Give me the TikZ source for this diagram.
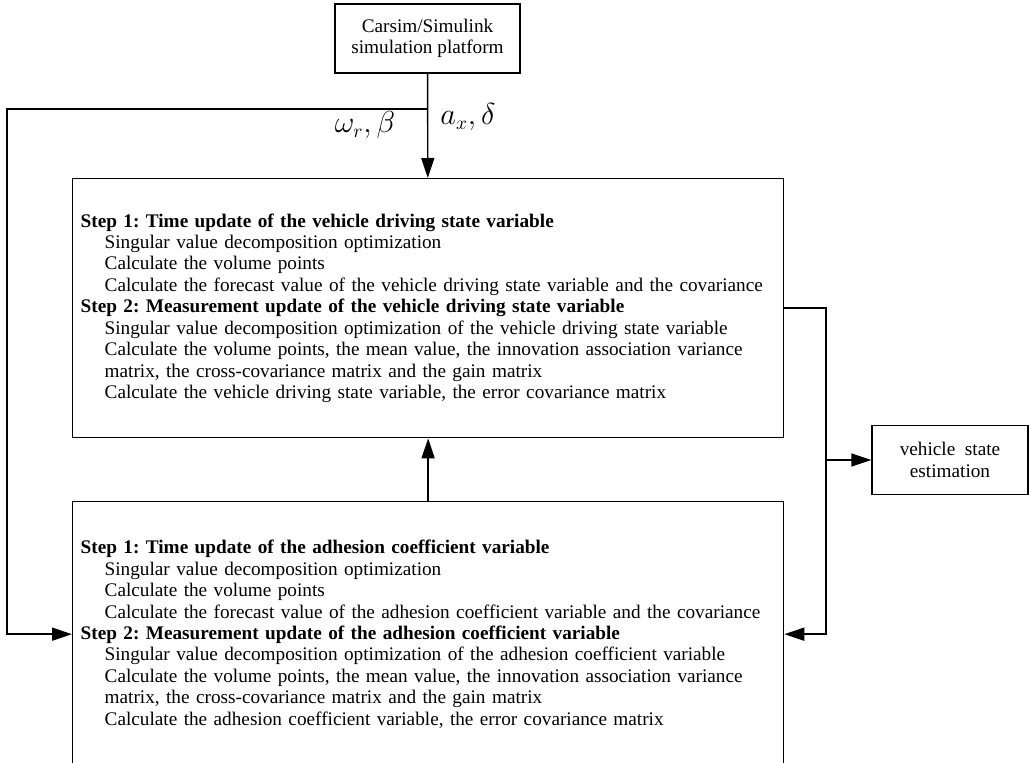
\documentclass[tikz,border=0pt]{standalone}
\usepackage{fontspec}
\setmainfont{Liberation Serif}
\usetikzlibrary{positioning, arrows.meta}
\newcommand{\stepind}{\hspace*{0.48cm}}
\frenchspacing

\begin{document}
\begin{tikzpicture}[
  x=0.02cm, y=-0.02cm,
  >={Triangle[length=4mm, width=2.6mm]},
  every node/.style={font=\fontsize{10.95}{12.2}\selectfont},
  box/.style   = {draw, line width=0.8pt, align=center, inner sep=2pt},
  stage/.style = {draw, line width=0.8pt, align=left, anchor=north west,
                  inner xsep=0.16cm, text width=13.9cm},
  sym/.style   = {font=\fontsize{16}{18}\selectfont},
  wire/.style  = {line width=0.8pt},
  arr/.style   = {->, wire},
]
  \useasboundingbox (0,0) rectangle (1029,763);
  % platform at top, two filter stages below, estimate on the right
  \node[box, minimum width=3.7cm, minimum height=1.38cm] (plat) at (427.5,38.5)
    {Carsim/Simulink\\simulation platform};
  \node[stage, minimum height=5.18cm] (vsf) at (72,178) {%
    \textbf{Step 1: Time update of the vehicle driving state variable}\\
    \stepind Singular value decomposition optimization\\
    \stepind Calculate the volume points\\
    \stepind Calculate the forecast value of the vehicle driving state variable and the covariance\\
    \textbf{Step 2: Measurement update of the vehicle driving state variable}\\
    \stepind Singular value decomposition optimization of the vehicle driving state variable\\
    \stepind Calculate the volume points, the mean value, the innovation association variance\\
    \stepind matrix, the cross-covariance matrix and the gain matrix\\
    \stepind Calculate the vehicle driving state variable, the error covariance matrix};
  \node[stage, minimum height=5.3cm] (acf) at (72,501) {%
    \textbf{Step 1: Time update of the adhesion coefficient variable}\\
    \stepind Singular value decomposition optimization\\
    \stepind Calculate the volume points\\
    \stepind Calculate the forecast value of the adhesion coefficient variable and the covariance\\
    \textbf{Step 2: Measurement update of the adhesion coefficient variable}\\
    \stepind Singular value decomposition optimization of the adhesion coefficient variable\\
    \stepind Calculate the volume points, the mean value, the innovation association variance\\
    \stepind matrix, the cross-covariance matrix and the gain matrix\\
    \stepind Calculate the adhesion coefficient variable, the error covariance matrix};
  \node[box, minimum width=3.12cm, minimum height=1.38cm] (vse) at (950,460)
    {vehicle\ \ state\\estimation};
  \node[sym] (wb) at (365,125) {$\omega_r,\beta$};
  \node[sym] (ad) at (468,117) {$a_x,\delta$};

  \coordinate (tap) at (428,109);
  \coordinate (lft) at (7,109);
  \coordinate (mid) at (826,460);

  \draw[arr] (plat) -- (vsf);
  \draw[arr] (tap) -- (lft) |- (acf.west);
  \draw[arr] (acf) -- (vsf);
  \draw[arr] (vsf.east) -| (mid) |- (acf.east);
  \draw[arr] (mid) -- (vse);
\end{tikzpicture}
\end{document}
